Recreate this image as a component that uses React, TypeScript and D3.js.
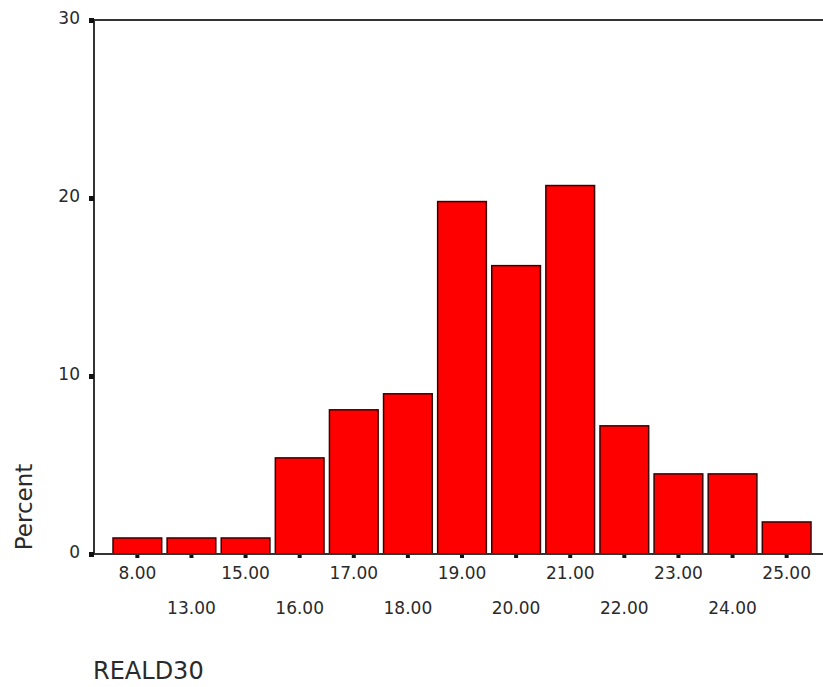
import React, { useEffect, useRef } from 'react';
import * as d3 from 'd3';

const categories = ['8.00', '13.00', '15.00', '16.00', '17.00', '18.00', '19.00', '20.00', '21.00', '22.00', '23.00', '24.00', '25.00'];
const percents = [0.9, 0.9, 0.9, 5.4, 8.1, 9.0, 19.8, 16.2, 20.7, 7.2, 4.5, 4.5, 1.8];
const yTicks = [0, 10, 20, 30];

const W = 823;
const H = 687;

const App = () => {
    const ref = useRef<SVGSVGElement>(null);

    useEffect(() => {
        const svg = d3.select(ref.current);
        svg.selectAll('*').remove();

        const x = d3.scaleBand<string>()
            .domain(categories)
            .range([113, 811])
            .paddingInner(0.1)
            .paddingOuter(0);

        const y = d3.scaleLinear().domain([0, 30]).range([554, 20]);

        const font = 'DejaVu Sans, sans-serif';

        // bars
        svg.append('g')
            .selectAll('rect')
            .data(percents)
            .enter().append('rect')
            .attr('x', (d, i) => x(categories[i])!)
            .attr('y', d => y(d))
            .attr('width', x.bandwidth())
            .attr('height', d => y(0) - y(d))
            .attr('fill', '#ff0000')
            .attr('stroke', '#3a0000')
            .attr('stroke-width', 1.5);

        // frame lines
        svg.append('line')
            .attr('x1', 94).attr('x2', W).attr('y1', y(30)).attr('y2', y(30))
            .attr('stroke', '#333').attr('stroke-width', 2);
        svg.append('line')
            .attr('x1', 94).attr('x2', 94).attr('y1', y(30)).attr('y2', y(0))
            .attr('stroke', '#333').attr('stroke-width', 2);
        svg.append('line')
            .attr('x1', 94).attr('x2', W).attr('y1', y(0)).attr('y2', y(0))
            .attr('stroke', '#333').attr('stroke-width', 2);

        // y ticks
        const yg = svg.append('g');
        yg.selectAll('rect')
            .data(yTicks)
            .enter().append('rect')
            .attr('x', 89).attr('y', d => y(d) - 2)
            .attr('width', 5).attr('height', 5)
            .attr('fill', '#111');
        yg.selectAll('text')
            .data(yTicks)
            .enter().append('text')
            .attr('x', 80).attr('y', d => y(d) - 2)
            .attr('dy', '0.35em')
            .attr('text-anchor', 'end')
            .style('font-family', font).style('font-size', '17px').style('fill', '#2a2a2a')
            .text(d => d);

        // x ticks
        const xg = svg.append('g');
        xg.selectAll('rect')
            .data(categories)
            .enter().append('rect')
            .attr('x', d => x(d)! + x.bandwidth() / 2 - 2).attr('y', y(0) + 1)
            .attr('width', 4).attr('height', 3)
            .attr('fill', '#111');
        xg.selectAll('text')
            .data(categories)
            .enter().append('text')
            .attr('x', d => x(d)! + x.bandwidth() / 2)
            .attr('y', (d, i) => (i % 2 === 0 ? 579 : 614))
            .attr('text-anchor', 'middle')
            .style('font-family', font).style('font-size', '17px').style('fill', '#2a2a2a')
            .text(d => d);

        // axis titles
        svg.append('text')
            .attr('transform', 'translate(32,507) rotate(-90)')
            .attr('text-anchor', 'middle')
            .style('font-family', font).style('font-size', '23px').style('fill', '#2a2a2a')
            .text('Percent');
        svg.append('text')
            .attr('x', 93).attr('y', 679)
            .style('font-family', font).style('font-size', '24px').style('fill', '#2a2a2a')
            .text('REALD30');
    }, []);

    return (
        <svg ref={ref} width={W} height={H}
            style={{ position: 'absolute', left: 0, top: 0, background: '#fff' }} />
    );
};

export default App;
